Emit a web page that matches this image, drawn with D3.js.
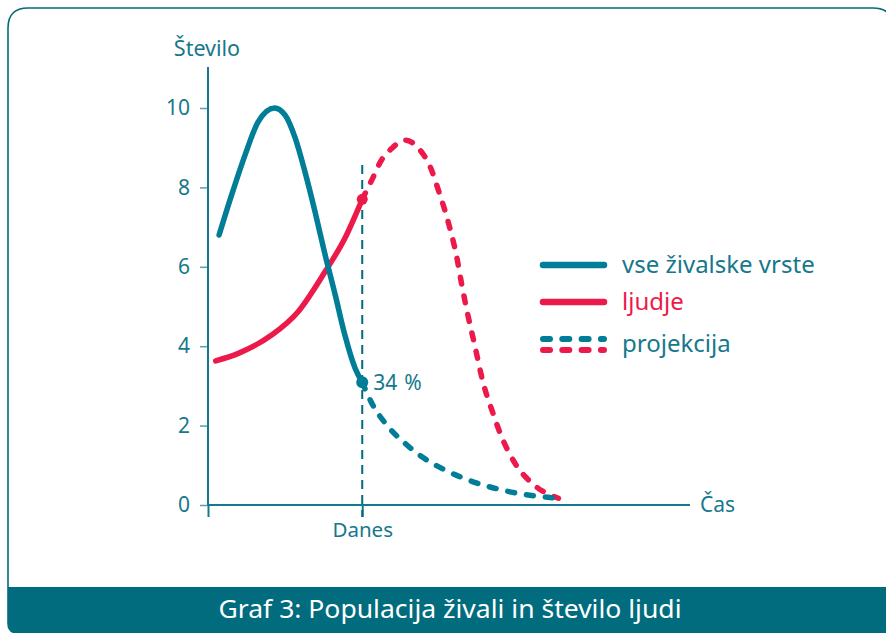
<!DOCTYPE html>
<html>
<head>
<meta charset="utf-8">
<script src="https://cdn.jsdelivr.net/npm/d3@7"></script>
<style>
  body { margin: 0; background: #fff; }
  svg { display: block; font-family: "Noto Sans", sans-serif; }
</style>
</head>
<body>
<div id="chart"></div>
<script>
// Data (time in arbitrary units, today = 32)
const todayTime = 32
const yTicks = [0, 2, 4, 6, 8, 10]

const animalsTime  = [2.3, 4.9, 7.7, 10.4, 13.8, 16.0, 18.1, 20.1, 22.2, 24.3, 26.4, 28.4, 30.5, 32]
const animalsCount = [6.8, 7.81, 8.82, 9.65, 10.0, 9.82, 9.24, 8.40, 7.39, 6.30, 5.29, 4.28, 3.45, 3.09]

const humansTime  = [1.6, 6.3, 13.2, 18.7, 24.3, 28.4, 32]
const humansCount = [3.63, 3.82, 4.28, 4.87, 5.88, 6.72, 7.7]

const animalsProjTime  = [32, 34.0, 37.4, 40.9, 44.3, 49.2, 54.0, 60.9, 67.8, 72.7]
const animalsProjCount = [3.09, 2.56, 1.97, 1.55, 1.22, 0.88, 0.63, 0.38, 0.23, 0.17]

const humansProjTime  = [32, 34.0, 36.0, 38.1, 40.9, 44.0, 46.1, 47.8, 49.9, 51.6, 52.6, 54.0, 55.4, 57.1, 58.9, 60.9, 63.7, 67.2, 72.7]
const humansProjCount = [7.7, 8.19, 8.69, 8.98, 9.19, 8.94, 8.52, 7.93, 7.10, 6.25, 5.58, 4.74, 3.99, 3.07, 2.39, 1.72, 1.05, 0.55, 0.17]

const legendLabels = ['vse živalske vrste', 'ljudje', 'projekcija']

const blue = '#017d98'
const red = '#ec1a4b'
const textCol = '#16788c'
const dark = '#006c7e'

const width = 886, height = 633

const svg = d3.select('#chart').append('svg')
  .attr('width', width)
  .attr('height', height)

// Panel frame with banner
const px0 = 8, py0 = 8, px1 = 893, py1 = 633, rTop = 20, rBot = 10
const framePath = `M${px0},${py0 + rTop} Q${px0},${py0} ${px0 + rTop},${py0} L${px1 - rTop},${py0} Q${px1},${py0} ${px1},${py0 + rTop} L${px1},${py1 - rBot} Q${px1},${py1} ${px1 - rBot},${py1} L${px0 + rBot},${py1} Q${px0},${py1} ${px0},${py1 - rBot} Z`
svg.append('clipPath').attr('id', 'panel').append('path').attr('d', framePath)
svg.append('rect')
  .attr('x', 0).attr('y', 587).attr('width', width).attr('height', 60)
  .attr('fill', dark)
  .attr('clip-path', 'url(#panel)')
svg.append('path')
  .attr('d', framePath)
  .attr('fill', 'none')
  .attr('stroke', dark)
  .attr('stroke-width', 1.6)

svg.append('text')
  .attr('x', 450).attr('y', 618)
  .attr('text-anchor', 'middle')
  .attr('fill', '#fff')
  .attr('font-size', 25)
  .attr('textLength', 463)
  .attr('lengthAdjust', 'spacingAndGlyphs')
  .text('Graf 3: Populacija živali in število ljudi')

// Scales
const x = d3.scaleLinear().domain([0, 100]).range([208, 690])
const y = d3.scaleLinear().domain([0, 10]).range([505, 108])

// Axes
const yAxis = svg.append('g')
  .attr('transform', `translate(${x(0)},0)`)
  .call(d3.axisLeft(y).tickValues(yTicks).tickSize(8).tickPadding(10))
yAxis.select('.domain').remove()
yAxis.selectAll('line').attr('stroke', '#5a9fad').attr('stroke-width', 1.5)
yAxis.selectAll('text').attr('fill', textCol).attr('font-size', 21).attr('font-family', '"Noto Sans", sans-serif')

const xAxis = svg.append('g')
  .attr('transform', `translate(0,${y(0)})`)
  .call(d3.axisBottom(x).tickValues([0, todayTime]).tickSize(12).tickPadding(5)
    .tickFormat(d => d === todayTime ? 'Danes' : ''))
xAxis.select('.domain').remove()
xAxis.selectAll('line').attr('stroke', textCol).attr('stroke-width', 2)
xAxis.selectAll('text').attr('fill', textCol).attr('font-size', 20.5).attr('font-family', '"Noto Sans", sans-serif')

svg.append('line')
  .attr('x1', x(0)).attr('x2', x(0)).attr('y1', 67).attr('y2', y(0))
  .attr('stroke', textCol).attr('stroke-width', 2)
svg.append('line')
  .attr('x1', x(0)).attr('x2', 690).attr('y1', y(0)).attr('y2', y(0))
  .attr('stroke', textCol).attr('stroke-width', 2)

svg.append('text')
  .attr('x', 207).attr('y', 56)
  .attr('text-anchor', 'middle')
  .attr('fill', textCol).attr('font-size', 21.5)
  .text('Število')
svg.append('text')
  .attr('x', 700).attr('y', y(0))
  .attr('dy', '0.35em')
  .attr('fill', textCol).attr('font-size', 21)
  .text('Čas')

// Today line
svg.append('line')
  .attr('x1', x(todayTime)).attr('x2', x(todayTime))
  .attr('y1', 165).attr('y2', y(0) + 12)
  .attr('stroke', dark).attr('stroke-width', 2)
  .attr('stroke-dasharray', '9,6')

// Lines
const line = d3.line()
  .x(d => x(d[0]))
  .y(d => y(d[1]))
  .curve(d3.curveMonotoneX)

const series = [
  { t: humansProjTime, v: humansProjCount, color: red, dash: '7,12' },
  { t: animalsProjTime, v: animalsProjCount, color: blue, dash: '7,12' },
  { t: humansTime, v: humansCount, color: red, dash: null },
  { t: animalsTime, v: animalsCount, color: blue, dash: null },
]

series.forEach(s => {
  svg.append('path')
    .datum(d3.zip(s.t, s.v))
    .attr('d', line)
    .attr('fill', 'none')
    .attr('stroke', s.color)
    .attr('stroke-width', 5.5)
    .attr('stroke-linecap', 'round')
    .attr('stroke-dasharray', s.dash)
})

// End dots at today
svg.append('circle')
  .attr('cx', x(todayTime)).attr('cy', y(humansCount[humansCount.length - 1]))
  .attr('r', 5.5).attr('fill', red)
svg.append('circle')
  .attr('cx', x(todayTime)).attr('cy', y(animalsCount[animalsCount.length - 1]))
  .attr('r', 6).attr('fill', blue)

svg.append('text')
  .attr('x', x(todayTime) + 11).attr('y', y(animalsCount[animalsCount.length - 1]))
  .attr('dy', '0.35em')
  .attr('fill', textCol).attr('font-size', 21)
  .text('34\u2009\u2009%')

// Legend
const lg = svg.append('g')
const lx0 = 543, lx1 = 604
lg.append('line').attr('x1', lx0).attr('x2', lx1).attr('y1', 265).attr('y2', 265)
  .attr('stroke', blue).attr('stroke-width', 6.5).attr('stroke-linecap', 'round')
lg.append('line').attr('x1', lx0).attr('x2', lx1).attr('y1', 302).attr('y2', 302)
  .attr('stroke', red).attr('stroke-width', 6.5).attr('stroke-linecap', 'round')
lg.append('line').attr('x1', lx0).attr('x2', lx1).attr('y1', 339).attr('y2', 339)
  .attr('stroke', blue).attr('stroke-width', 6).attr('stroke-linecap', 'round')
  .attr('stroke-dasharray', '7,12.3')
lg.append('line').attr('x1', lx0).attr('x2', lx1).attr('y1', 350).attr('y2', 350)
  .attr('stroke', red).attr('stroke-width', 6).attr('stroke-linecap', 'round')
  .attr('stroke-dasharray', '7,12.3')

const legendY = [265, 302, 344]
const legendCol = [textCol, red, textCol]
lg.selectAll('text.lbl')
  .data(legendLabels)
  .join('text')
  .attr('x', 622)
  .attr('y', (d, i) => legendY[i])
  .attr('dy', '0.35em')
  .attr('fill', (d, i) => legendCol[i])
  .attr('font-size', 24)
  .text(d => d)
</script>
</body>
</html>
